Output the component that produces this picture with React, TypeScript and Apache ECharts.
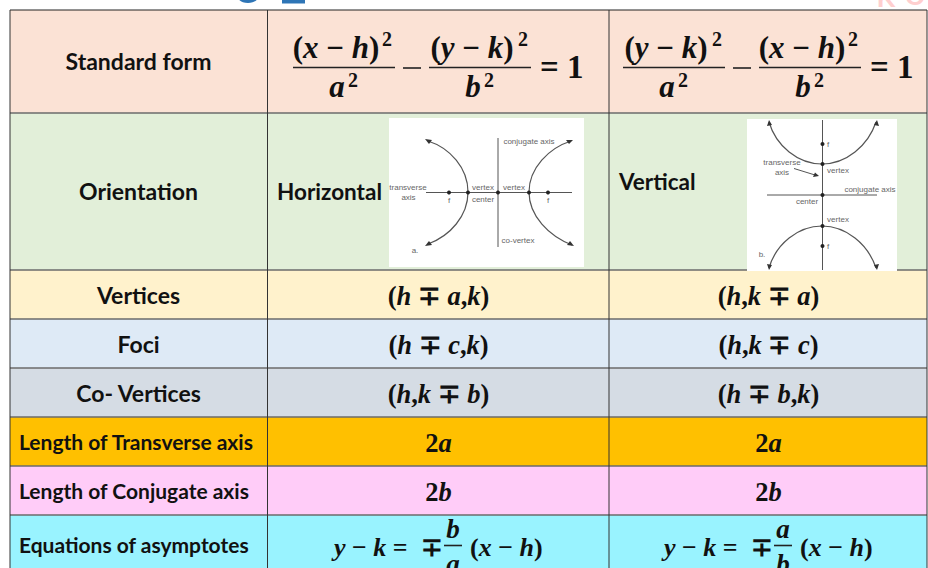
import React, { useEffect, useRef } from "react";
import * as echarts from "echarts";

const rowLabels = ["Standard form", "Orientation", "Vertices", "Foci", "Co- Vertices", "Length of Transverse axis", "Length of Conjugate axis", "Equations of asymptotes"];
const rowColors = ["#FBE2D5", "#E2EFD9", "#FFF2CC", "#DEEAF6", "#D5DCE4", "#FFC000", "#FFCCF8", "#99F3FF"];
const rowEdges = [10, 113, 270, 319, 368, 417, 466, 515, 568];
const colEdges = [10, 267.5, 609, 927];
const orientations = ["Horizontal", "Vertical"];
const col1Math = ["(h ∓ a,k)", "(h ∓ c,k)", "(h,k ∓ b)", "2a", "2b"];
const col2Math = ["(h,k ∓ a)", "(h,k ∓ c)", "(h ∓ b,k)", "2a", "2b"];

const INK = "#111";
const MATH2 = "'Liberation Serif', serif";

const mathRich = (size: number) => ({
  v: { fontFamily: MATH2, fontSize: size, fontWeight: "bold", fontStyle: "italic", fill: INK },
  p: { fontFamily: MATH2, fontSize: size, fontWeight: "bold", fill: INK },
});
function markup(s: string) {
  return s.split("").map((c) => {
    if (c === " ") return "{p| }";
    return /[a-z]/.test(c) ? `{v|${c}}` : `{p|${c}}`;
  }).join("");
}
function math(x: number, y: number, s: string, size: number, align = "center") {
  return {
    type: "text", x, y, silent: true,
    style: { text: markup(s), rich: mathRich(size), fontSize: size, align, verticalAlign: "middle" },
  };
}
function label(x: number, y: number, s: string, size: number, align = "center") {
  return {
    type: "text", x, y, silent: true,
    style: { text: s, fill: INK, fontFamily: "Lato, 'Open Sans', sans-serif", fontWeight: "bold", fontSize: size, align, verticalAlign: "middle" },
  };
}
function rule(x1: number, y: number, x2: number) {
  return { type: "line", silent: true, shape: { x1, y1: y, x2, y2: y }, style: { stroke: "#222", lineWidth: 1.6 } };
}
function frac(x: number, num: string, den: string, w: number) {
  return [
    math(x + w / 2 - 8, 47, num, 31),
    math(x + w / 2 + 43, 39, "2", 20),
    rule(x, 67.5, x + w),
    math(x + w / 2 - 7, 86, den, 31),
    math(x + w / 2 + 9, 80, "2", 20),
  ];
}
function stdForm(x: number, n1: string, d1: string, n2: string, d2: string) {
  return [
    ...frac(x, n1, d1, 102),
    rule(x + 110, 68, x + 128),
    ...frac(x + 136, n2, d2, 102),
    math(x + 247, 67, "= 1", 33, "left"),
  ];
}

// tiny diagram helpers
const GREY = "#555";
function small(x: number, y: number, s: string) {
  return { type: "text", x, y, silent: true, style: { text: s, fill: "#666", fontFamily: "'Liberation Sans', sans-serif", fontSize: 8, align: "center", verticalAlign: "middle" } };
}
function seg(x1: number, y1: number, x2: number, y2: number) {
  return { type: "line", silent: true, shape: { x1, y1, x2, y2 }, style: { stroke: GREY, lineWidth: 1 } };
}
function dot(cx: number, cy: number) {
  return { type: "circle", silent: true, shape: { cx, cy, r: 2 }, style: { fill: "#222" } };
}
function curve(x1: number, y1: number, c1x: number, c1y: number, c2x: number, c2y: number, x2: number, y2: number) {
  return { type: "bezierCurve", silent: true, shape: { x1, y1, x2, y2, cpx1: c1x, cpy1: c1y, cpx2: c2x, cpy2: c2y }, style: { stroke: GREY, lineWidth: 1.2, fill: "none" } };
}
function tri(pts: number[][]) {
  return { type: "polygon", silent: true, shape: { points: pts }, style: { fill: "#333" } };
}

const horizontalLabels: [number, number, string][] = [
  [529, 141, "conjugate axis"], [408, 187, "transverse"], [408.5, 197, "axis"], [483, 187, "vertex"], [514, 187, "vertex"],
  [483, 199.5, "center"], [449, 200, "f"], [548, 200, "f"], [518, 240, "co-vertex"], [415, 250, "a."],
];
const verticalLabels: [number, number, string][] = [
  [828, 144, "f"], [782, 162, "transverse"], [782, 172, "axis"], [838, 170, "vertex"], [870, 189, "conjugate axis"],
  [807, 201, "center"], [838, 219, "vertex"], [828, 246, "f"], [762, 254, "b."],
];

function horizontalDiagram() {
  return [
    { type: "rect", silent: true, shape: { x: 389, y: 118, width: 195, height: 149 }, style: { fill: "#fff" } },
    seg(426, 192.5, 572, 192.5),
    seg(498, 138, 498, 247),
    curve(428, 141, 450, 148, 468, 168, 468, 192),
    curve(468, 192, 468, 216, 450, 236, 428, 244),
    curve(571, 141, 549, 148, 529, 168, 529, 192),
    curve(529, 192, 529, 216, 549, 236, 572, 245),
    tri([[425, 139], [432, 140], [429, 144]]),
    tri([[425, 246], [432, 245], [429, 241]]),
    tri([[573, 140], [566, 140], [569, 144]]),
    tri([[574, 246], [567, 245], [570, 241]]),
    dot(449, 192.5), dot(468, 192.5), dot(498, 192.5), dot(529, 192.5), dot(548, 192.5),
    ...horizontalLabels.map(([x, y, s]) => small(x, y, s)),
  ];
}
function verticalDiagram() {
  return [
    seg(822.5, 120, 822.5, 270),
    seg(767, 195, 877, 195),
    curve(769, 122, 776, 146, 798, 164, 822, 164),
    curve(822, 164, 846, 164, 868, 146, 876, 122),
    curve(769, 268, 776, 244, 798, 226, 822, 226),
    curve(822, 226, 846, 226, 868, 244, 876, 268),
    tri([[769, 120], [767, 126], [772, 125]]),
    tri([[877, 120], [879, 126], [874, 125]]),
    tri([[769, 270], [767, 264], [772, 265]]),
    tri([[877, 270], [879, 264], [874, 265]]),
    seg(794, 168.5, 815, 175),
    tri([[819, 176], [813, 177], [815, 172.5]]),
    dot(822.5, 144), dot(822.5, 164), dot(822.5, 195), dot(822.5, 226), dot(822.5, 246),
    ...verticalLabels.map(([x, y, s]) => small(x, y, s)),
  ];
}

function asymptote(x: number, n: string, d: string) {
  return [
    math(x, 547, "y − k =", 26, "left"),
    math(x + 98, 547, "∓", 26),
    math(x + 119, 529, n, 27),
    rule(x + 110, 545.5, x + 128),
    math(x + 119, 564, d, 27),
    math(x + 136, 547, "(x − h)", 26, "left"),
  ];
}

function buildGraphics() {
  const els: any[] = [];
  rowColors.forEach((fill, i) => {
    els.push({ type: "rect", silent: true, shape: { x: colEdges[0], y: rowEdges[i], width: colEdges[3] - colEdges[0], height: rowEdges[i + 1] - rowEdges[i] }, style: { fill } });
  });
  els.push(...horizontalDiagram());
  rowEdges.slice(0, -1).forEach((y, i) => {
    els.push({ type: "line", silent: true, shape: { x1: colEdges[0], y1: y, x2: colEdges[3], y2: y }, style: { stroke: i === 0 ? "#222" : "#6b6b6b", lineWidth: i === 0 ? 1 : 1.5 } });
  });
  colEdges.forEach((x) => {
    els.push({ type: "line", silent: true, shape: { x1: x, y1: rowEdges[0], x2: x, y2: 568 }, style: { stroke: "#333", lineWidth: 1 } });
  });
  els.push({ type: "rect", silent: true, shape: { x: 747, y: 119, width: 150, height: 152 }, style: { fill: "#fff" } });
  els.push(...verticalDiagram());
  const cx0 = 138.5;
  rowLabels.forEach((s, i) => {
    const yc = (rowEdges[i] + rowEdges[i + 1]) / 2;
    if (i < 5) els.push(label(cx0, i < 2 ? yc - 0.5 : yc + 0.5, s, 23));
    else els.push(label(19, i === 7 ? 544.5 : yc, s, 21, "left"));
  });
  els.push(label(277, 191.5, orientations[0], 22.5, "left"), label(619, 181.5, orientations[1], 22.5, "left"));
  els.push(...stdForm(293, "(x − h)", "a", "(y − k)", "b"));
  els.push(...stdForm(623, "(y − k)", "a", "(x − h)", "b"));
  [0, 1, 2, 3, 4].forEach((i) => {
    const y = (rowEdges[i + 2] + rowEdges[i + 3]) / 2 + 1;
    els.push(math(438.5, y, col1Math[i], 26.5), math(768.5, y, col2Math[i], 26.5));
  });
  els.push(...asymptote(334, "b", "a"), ...asymptote(664, "a", "b"));
  // cropped remnants of the page above the table
  els.push({ type: "rect", silent: true, shape: { x: 282, y: 0, width: 23, height: 3.5 }, style: { fill: "#2E75B6" } });
  els.push({ type: "ellipse", silent: true, shape: { cx: 248, cy: -3, rx: 10, ry: 6 }, style: { fill: "#2E75B6" } });
  els.push({ type: "text", silent: true, x: 877, y: -15, style: { text: "K", fill: "#FFCFCF", fontFamily: "'Liberation Sans', sans-serif", fontWeight: "bold", fontSize: 26 } });
  els.push({ type: "text", silent: true, x: 905, y: -17, style: { text: "O", fill: "#FFCFCF", fontFamily: "'Liberation Sans', sans-serif", fontWeight: "bold", fontSize: 26 } });
  return els;
}

export default function App() {
  const ref = useRef<HTMLDivElement>(null);
  useEffect(() => {
    const chart = echarts.init(ref.current!, undefined, { renderer: "svg" });
    chart.setOption({ animation: false, backgroundColor: "#fff", graphic: { elements: buildGraphics() } });
    return () => chart.dispose();
  }, []);
  return <div ref={ref} style={{ position: "fixed", left: 0, top: 0, width: 928, height: 568 }} />;
}
